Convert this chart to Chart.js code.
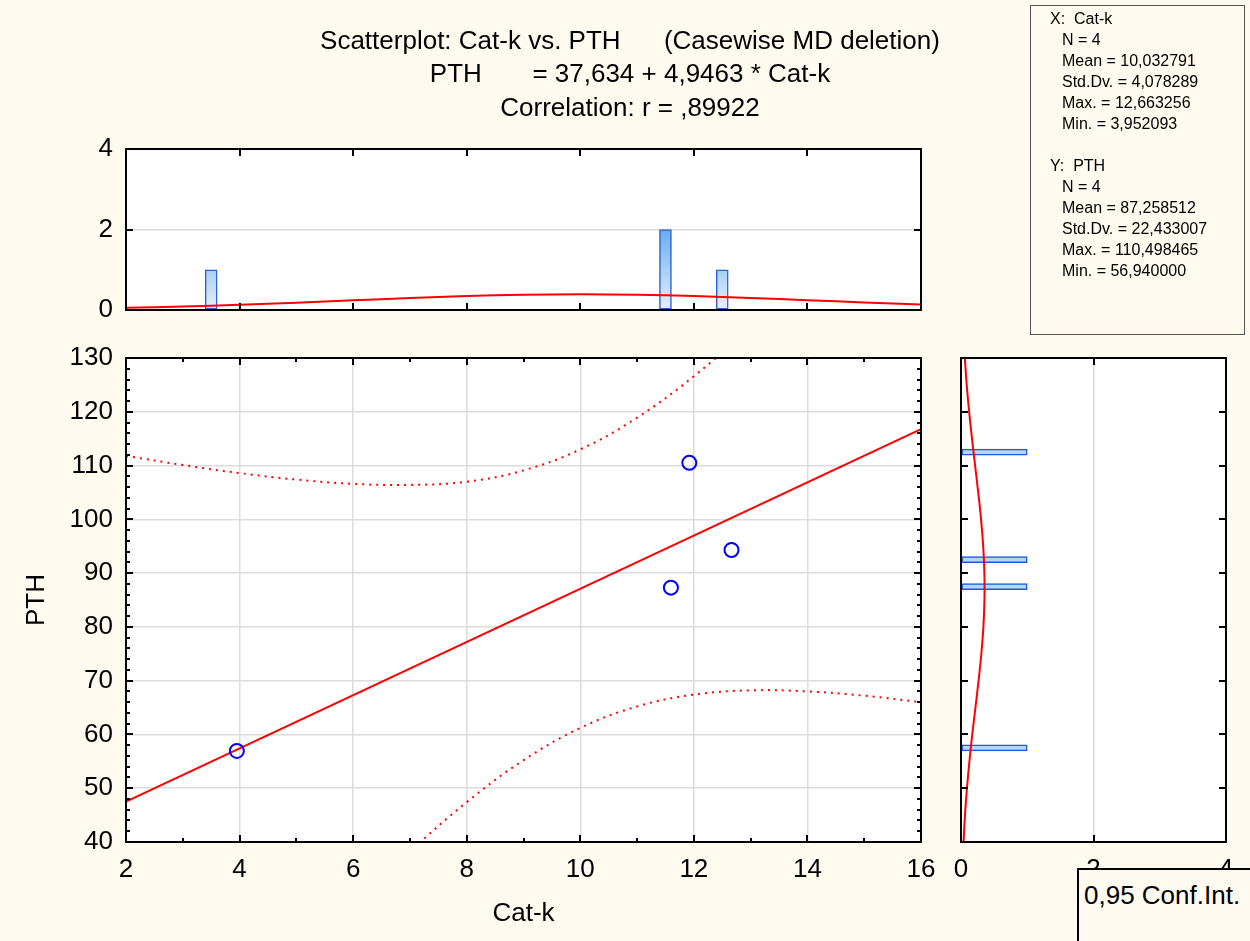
<!DOCTYPE html>
<html>
<head>
<meta charset="utf-8">
<title>Scatterplot: Cat-k vs. PTH</title>
<script src="https://cdn.jsdelivr.net/npm/chart.js@4.4.1/dist/chart.umd.min.js"></script>
<style>
  html, body { margin: 0; padding: 0; }
  body { width: 1250px; height: 941px; background: #fffaf0; position: relative; overflow: hidden;
         font-family: Arial, "Liberation Sans", sans-serif; color: #000; }
  canvas { position: absolute; left: 0; top: 0; }
  .tit { position: absolute; left: 0; width: 1260px; text-align: center; font-size: 26px; white-space: pre; line-height: 30px; }
  #stats { position: absolute; left: 1030px; top: 5px; width: 215px; height: 330px; border: 1px solid #555;
           font-size: 16px; line-height: 21px; padding-top: 2px; box-sizing: border-box; white-space: pre; }
  #stats .h { padding-left: 19px; }
  #stats .s { padding-left: 31px; }
  #ci { position: absolute; left: 1077px; top: 868px; width: 200px; height: 100px; border: 2px solid #000;
        background: #fffaf0; font-size: 26px; line-height: 30px; padding: 10px 0 0 5px; box-sizing: border-box; }
</style>
</head>
<body>
<canvas id="grafPrincipal" width="1250" height="941"></canvas>
<canvas id="grafTopo" width="1250" height="941"></canvas>
<canvas id="grafDireita" width="1250" height="941"></canvas>

<div class="tit" style="top:25px">Scatterplot: Cat-k vs. PTH      (Casewise MD deletion)</div>
<div class="tit" style="top:58px">PTH       = 37,634 + 4,9463 * Cat-k</div>
<div class="tit" style="top:92px">Correlation: r = ,89922</div>

<div id="stats"></div>
<div id="ci">0,95 Conf.Int.</div>

<script>
// dados
var catK = [3.952, 11.92, 12.663, 11.596];
var pth = [56.94, 110.5, 94.3, 87.3];

// reta de regressao (nas bordas do eixo)
var retaX = [2, 16];
var retaY = [47.53, 116.78];

// intervalo de confianca 0,95
var icSupX = [2, 3, 4, 5, 6, 7, 8, 9, 10, 11, 12, 13];
var icSupY = [111.8, 110.1, 108.6, 107.4, 106.6, 106.4, 107.0, 109.1, 113.0, 118.9, 126.6, 135.7];
var icInfX = [6, 7, 8, 9, 10, 11, 12, 13, 14, 15, 16];
var icInfY = [28.1, 38.2, 47.4, 55.2, 61.2, 65.2, 67.4, 68.2, 68.0, 67.2, 66.0];

// histograma de cima (Cat-k)
var histTopoX = [3.5, 11.5, 12.5];
var histTopoN = [1, 2, 1];
var curvaTopoX = [2, 3, 4, 5, 6, 7, 8, 9, 10, 11, 12, 13, 14, 15, 16];
var curvaTopoY = [0.056, 0.088, 0.131, 0.183, 0.240, 0.297, 0.346, 0.379, 0.391, 0.380, 0.348, 0.300, 0.244, 0.186, 0.134];

// histograma da direita (PTH)
var histDirY = [112.5, 92.5, 87.5, 57.5];
var histDirN = [1, 1, 1, 1];
var curvaDirY = [40, 45, 50, 55, 60, 65, 70, 75, 80, 85, 90, 95, 100, 105, 110, 115, 120, 125, 130];
var curvaDirX = [0.039, 0.060, 0.090, 0.127, 0.170, 0.218, 0.265, 0.307, 0.338, 0.354, 0.353, 0.335, 0.303, 0.260, 0.213, 0.166, 0.123, 0.086, 0.058];

// eixos
var eixoX = { min: 2, max: 16, passo: 2 };
var eixoY = { min: 40, max: 130, passo: 10 };
var eixoTopoY = { min: 0, max: 4, passo: 2 };
var eixoDirX = { min: 0, max: 4, passo: 2 };

// caixa de estatisticas
var statsX = ['X:  Cat-k', 'N = 4', 'Mean = 10,032791', 'Std.Dv. = 4,078289', 'Max. = 12,663256', 'Min. = 3,952093'];
var statsY = ['Y:  PTH', 'N = 4', 'Mean = 87,258512', 'Std.Dv. = 22,433007', 'Max. = 110,498465', 'Min. = 56,940000'];

function pares(xs, ys) {
    return xs.map(function(v, i) { return { x: v, y: ys[i] }; });
}

(function() {
    var html = '';
    statsX.forEach(function(t, i) { html += '<div class="' + (i === 0 ? 'h' : 's') + '">' + t + '</div>'; });
    html += '<div>&nbsp;</div>';
    statsY.forEach(function(t, i) { html += '<div class="' + (i === 0 ? 'h' : 's') + '">' + t + '</div>'; });
    document.getElementById('stats').innerHTML = html;
})();

Chart.defaults.font.family = 'Arial, "Liberation Sans", sans-serif';
Chart.defaults.font.size = 26;
Chart.defaults.color = '#000';
Chart.defaults.animation = false;

var CINZA = '#dcdcdc';

// fundo branco, moldura e marcas para dentro
var moldura = {
    id: 'moldura',
    beforeDraw: function(chart) {
        var a = chart.chartArea, ctx = chart.ctx;
        ctx.save();
        ctx.fillStyle = '#ffffff';
        ctx.fillRect(a.left, a.top, a.right - a.left, a.bottom - a.top);
        ctx.restore();
    },
    afterDraw: function(chart, args, o) {
        var a = chart.chartArea, ctx = chart.ctx;
        var sx = chart.scales.x, sy = chart.scales.y;
        ctx.save();
        ctx.strokeStyle = '#000';
        ctx.lineWidth = 2;
        ctx.beginPath();
        var v, p, len;
        for (v = sx.min + o.xPasso; v < sx.max - 1e-6; v += o.xPasso) {
            p = Math.round(sx.getPixelForValue(v));
            len = (Math.abs(v / o.xMaior - Math.round(v / o.xMaior)) < 1e-6) ? 7 : 4;
            ctx.moveTo(p, a.bottom); ctx.lineTo(p, a.bottom - len);
            ctx.moveTo(p, a.top); ctx.lineTo(p, a.top + len);
        }
        for (v = sy.min + o.yPasso; v < sy.max - 1e-6; v += o.yPasso) {
            p = Math.round(sy.getPixelForValue(v));
            len = (Math.abs(v / o.yMaior - Math.round(v / o.yMaior)) < 1e-6) ? 7 : 4;
            ctx.moveTo(a.left, p); ctx.lineTo(a.left + len, p);
            ctx.moveTo(a.right, p); ctx.lineTo(a.right - len, p);
        }
        ctx.stroke();
        ctx.strokeRect(a.left, a.top, a.right - a.left, a.bottom - a.top);
        ctx.restore();
    }
};

// GRAFICO PRINCIPAL
new Chart(document.getElementById('grafPrincipal'), {
    type: 'scatter',
    data: {
        datasets: [{
            data: pares(catK, pth),
            pointStyle: 'circle',
            pointRadius: 7,
            pointBorderWidth: 2,
            borderColor: '#0000ff',
            backgroundColor: 'rgba(0,0,0,0)'
        }, {
            data: pares(retaX, retaY),
            showLine: true,
            pointRadius: 0,
            borderColor: '#ff0000',
            borderWidth: 2
        }, {
            data: pares(icSupX, icSupY),
            showLine: true,
            pointRadius: 0,
            tension: 0.4,
            borderColor: '#ff0000',
            borderWidth: 2,
            borderDash: [2, 5]
        }, {
            data: pares(icInfX, icInfY),
            showLine: true,
            pointRadius: 0,
            tension: 0.4,
            borderColor: '#ff0000',
            borderWidth: 2,
            borderDash: [2, 5]
        }]
    },
    options: {
        responsive: false,
        devicePixelRatio: 1,
        layout: { padding: { left: 0, top: 358, right: 329, bottom: 0 } },
        plugins: {
            legend: { display: false },
            tooltip: { enabled: false },
            moldura: { xPasso: 1, xMaior: 2, yPasso: 2, yMaior: 10 }
        },
        scales: {
            x: {
                type: 'linear', min: eixoX.min, max: eixoX.max,
                ticks: { stepSize: eixoX.passo, padding: 12 },
                grid: { color: CINZA, lineWidth: 1.5, drawTicks: false },
                border: { display: false },
                title: { display: true, text: 'Cat-k', font: { size: 26 }, padding: { bottom: 12 } },
                afterFit: function(s) { s.height = 99; }
            },
            y: {
                type: 'linear', min: eixoY.min, max: eixoY.max,
                ticks: { stepSize: eixoY.passo, padding: 13 },
                grid: { color: CINZA, lineWidth: 1.5, drawTicks: false },
                border: { display: false },
                title: { display: true, text: 'PTH', font: { size: 26 }, padding: { top: 21 } },
                afterFit: function(s) { s.width = 126; }
            }
        }
    },
    plugins: [moldura]
});

// HISTOGRAMA DE CIMA
new Chart(document.getElementById('grafTopo'), {
    type: 'bar',
    data: {
        datasets: [{
            type: 'line',
            data: pares(curvaTopoX, curvaTopoY),
            pointRadius: 0,
            tension: 0.4,
            borderColor: '#ff0000',
            borderWidth: 2
        }, {
            data: pares(histTopoX, histTopoN),
            barThickness: 12,
            borderSkipped: false,
            borderWidth: 1.5,
            borderColor: '#2a62d0',
            backgroundColor: function(c) {
                var ch = c.chart;
                if (!ch.chartArea) return '#a8cff5';
                var y0 = ch.scales.y.getPixelForValue(0), y2 = ch.scales.y.getPixelForValue(2);
                var g = ch.ctx.createLinearGradient(0, y0, 0, y2);
                g.addColorStop(0, '#e8f2fd');
                g.addColorStop(1, '#66acf2');
                return g;
            }
        }]
    },
    options: {
        responsive: false,
        devicePixelRatio: 1,
        layout: { padding: { left: 0, top: 149, right: 329, bottom: 631 } },
        plugins: {
            legend: { display: false },
            tooltip: { enabled: false },
            moldura: { xPasso: 2, xMaior: 2, yPasso: 2, yMaior: 2 }
        },
        scales: {
            x: {
                type: 'linear', min: eixoX.min, max: eixoX.max, offset: false,
                display: false,
                grid: { offset: false }
            },
            y: {
                type: 'linear', min: eixoTopoY.min, max: eixoTopoY.max,
                ticks: { stepSize: eixoTopoY.passo, padding: 13 },
                grid: { color: CINZA, lineWidth: 1.5, drawTicks: false },
                border: { display: false },
                afterFit: function(s) { s.width = 126; }
            }
        }
    },
    plugins: [moldura]
});

// HISTOGRAMA DA DIREITA
new Chart(document.getElementById('grafDireita'), {
    type: 'bar',
    data: {
        datasets: [{
            type: 'line',
            data: pares(curvaDirX, curvaDirY),
            pointRadius: 0,
            tension: 0.4,
            borderColor: '#ff0000',
            borderWidth: 2
        }, {
            data: pares(histDirN, histDirY),
            barThickness: 6,
            borderSkipped: false,
            borderWidth: 1.5,
            borderColor: '#1f58d8',
            backgroundColor: '#b5d6f7'
        }]
    },
    options: {
        indexAxis: 'y',
        responsive: false,
        devicePixelRatio: 1,
        layout: { padding: { left: 961, top: 358, right: 24, bottom: 0 } },
        plugins: {
            legend: { display: false },
            tooltip: { enabled: false },
            moldura: { xPasso: 2, xMaior: 2, yPasso: 10, yMaior: 10 }
        },
        scales: {
            x: {
                type: 'linear', min: eixoDirX.min, max: eixoDirX.max,
                ticks: { stepSize: eixoDirX.passo, padding: 12 },
                grid: { color: CINZA, lineWidth: 1.5, drawTicks: false },
                border: { display: false },
                afterFit: function(s) { s.height = 99; }
            },
            y: {
                type: 'linear', min: eixoY.min, max: eixoY.max, offset: false,
                display: false,
                grid: { offset: false }
            }
        }
    },
    plugins: [moldura]
});
</script>
</body>
</html>
